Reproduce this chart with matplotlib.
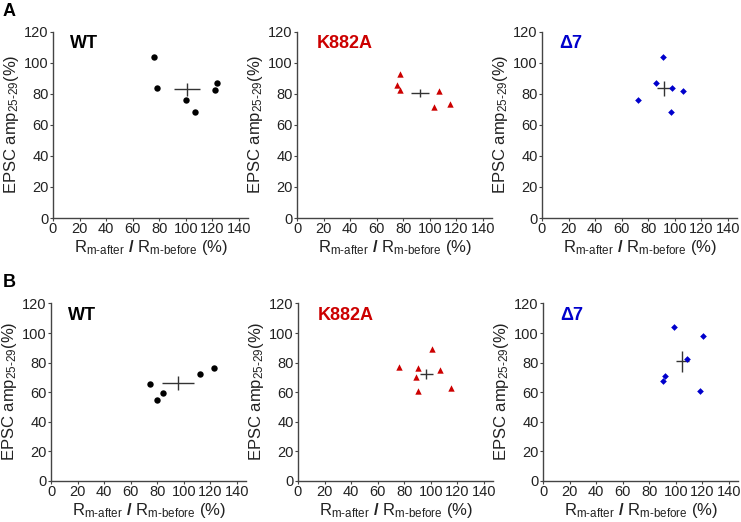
import numpy as np
import matplotlib
matplotlib.use('Agg')
import matplotlib.pyplot as plt

plt.rcParams['font.family'] = ['Liberation Sans', 'DejaVu Sans']
plt.rcParams['mathtext.fontset'] = 'custom'
plt.rcParams['mathtext.rm'] = 'Liberation Sans'
plt.rcParams['mathtext.it'] = 'Liberation Sans'
plt.rcParams['mathtext.bf'] = 'Liberation Sans:bold'

# data: (Rm ratio %, EPSC amp %)
groups = ['WT', 'K882A', '\u03947']
colors = ['black', '#cc0000', '#0000cc']
markers = ['o', '^', 'D']
msizes = [4.6, 4.6, 3.4]

a_x = [[76, 78, 100.4, 107, 121.7, 123.2],
       [77.8, 75, 77.3, 106.9, 103.4, 115.5],
       [91, 86, 98, 106, 72, 96.8]]
a_y = [[103.4, 83.9, 76, 68.4, 82.4, 86.7],
       [92.5, 85.4, 82.4, 81.6, 71.5, 73.6],
       [103.6, 86.7, 83.9, 81.8, 76, 68.4]]
a_mean = [(100.8, 82.8), (92.5, 80.5), (91.8, 83.5)]
a_err = [(9.8, 4.2), (7.0, 2.7), (5.4, 4.8)]

b_x = [[74.5, 79.6, 83.9, 112.3, 122.4],
       [76.2, 90, 89, 90, 100.7, 107, 115.5],
       [98.3, 120.2, 108.4, 91.8, 90.3, 117.9]]
b_y = [[65.7, 54.5, 59.2, 72.1, 76.3],
       [76.8, 76.1, 70.1, 60.8, 89, 75, 62.6],
       [103.8, 98.3, 82.6, 70.8, 67.3, 60.7]]
b_mean = [(95.7, 66.2), (96.6, 72.4), (104.6, 80.8)]
b_err = [(12, 4.7), (5, 3.3), (4.9, 7.4)]

xticks = np.arange(0, 141, 20)
yticks = np.arange(0, 121, 20)

W, H = 741, 522
fig = plt.figure(figsize=(W / 100, H / 100), dpi=100)

rows = [
    dict(lefts=[53, 297, 542], top=30, bottom=218, xs=a_x, ys=a_y, means=a_mean, errs=a_err),
    dict(lefts=[51, 298, 543], top=302, bottom=481, xs=b_x, ys=b_y, means=b_mean, errs=b_err),
]

hy = '\u2010'
ylab = 'EPSC amp$_{\\mathregular{25' + hy + '29}}$(%)'
xlab = ('R$_{\\mathregular{m' + hy + 'after}}$ $\\mathbf{/}$ R$_{\\mathregular{m'
        + hy + 'before}}$ (%)')

xmax = 147
for row in rows:
    for i in range(3):
        left = row['lefts'][i]
        width = xmax * 1.329
        ax = fig.add_axes([left / W, (H - row['bottom']) / H, width / W,
                           (row['bottom'] - row['top']) / H])
        ax.scatter(row['xs'][i], row['ys'][i], marker=markers[i], color=colors[i],
                   s=msizes[i] ** 2, zorder=3, linewidths=0)
        mx, my = row['means'][i]
        ex, ey = row['errs'][i]
        ax.errorbar([mx], [my], xerr=[ex], yerr=[ey], fmt='none', ecolor='#333333',
                    elinewidth=1.0, capsize=0, zorder=2)
        ax.text(13 if i != 1 else 15, 112, groups[i], color=colors[i], fontsize=13,
                fontweight='bold', va='center', ha='left')
        ax.set_xlim(0, xmax)
        ax.set_ylim(0, 121)
        ax.set_xticks(xticks)
        ax.set_yticks(yticks)
        for s in ['top', 'right']:
            ax.spines[s].set_visible(False)
        for s in ['left', 'bottom']:
            ax.spines[s].set_color('#444444')
            ax.spines[s].set_linewidth(1.0)
        ax.spines['left'].set_bounds(0, 120)
        ax.tick_params(direction='out', length=2, width=0.8, color='#444444',
                       labelsize=10.5, pad=1, labelcolor='#222222')
        ax.set_ylabel(ylab, fontsize=12, labelpad=2, color='#222222')
        ax.set_xlabel(xlab, fontsize=12, labelpad=1, color='#222222')

fig.text(3 / W, 1 - 16 / H, 'A', fontsize=13, fontweight='bold')
fig.text(3 / W, 1 - 287 / H, 'B', fontsize=13, fontweight='bold')

fig.savefig('out.png', dpi=100)
